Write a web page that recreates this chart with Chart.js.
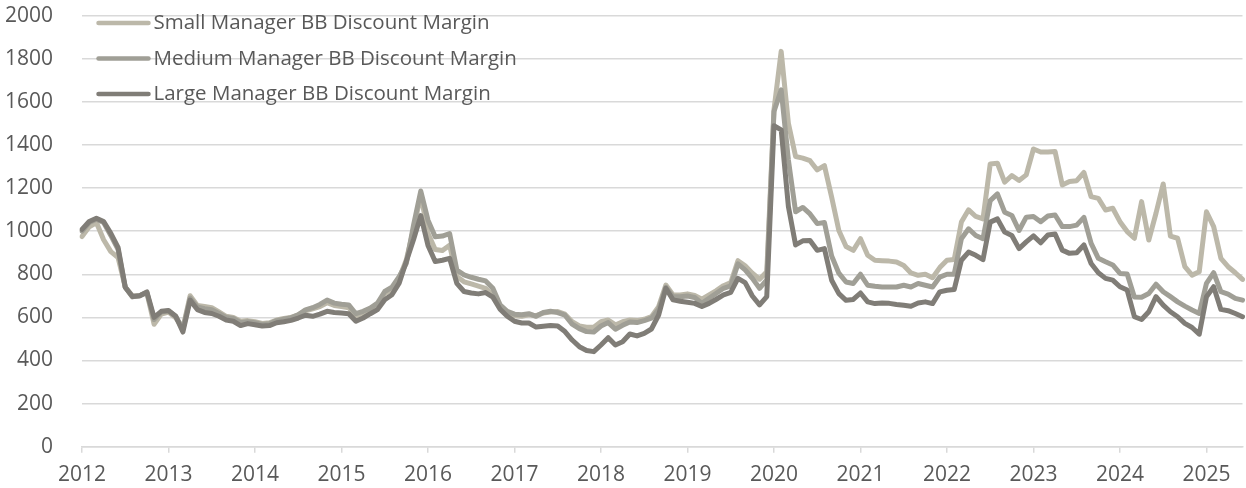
<!DOCTYPE html>
<html>
<head>
<meta charset="utf-8">
<script src="https://cdn.jsdelivr.net/npm/chart.js"></script>
<style>
  html, body { margin: 0; padding: 0; background: #ffffff; }
  #wrap { width: 1246px; height: 488px; }
</style>
</head>
<body>
<div id="wrap"><canvas id="c" width="1246" height="488"></canvas></div>
<script>
// ---- data (monthly, Jan 2012 – Jun 2025) ----
const years = [2012, 2013, 2014, 2015, 2016, 2017, 2018, 2019, 2020, 2021, 2022, 2023, 2024, 2025];
const months = ['01','02','03','04','05','06','07','08','09','10','11','12'];
const lastMonthOf2025 = 6;

const seriesNames = [
  'Small Manager BB Discount Margin',
  'Medium Manager BB Discount Margin',
  'Large Manager BB Discount Margin'
];

const smallBB = [
  975,1020,1040,960,905,878,740,700,700,715,568,615,
  625,598,550,700,655,650,645,625,605,600,582,585,
  580,572,575,588,595,600,612,630,640,650,668,655,
  650,645,605,620,640,660,710,730,780,868,1010,1170,
  990,915,910,935,790,765,755,745,735,705,645,620,
  608,605,612,608,620,625,627,615,580,560,554,554,
  580,588,565,580,588,585,591,603,650,750,704,704,
  709,702,684,704,724,747,761,863,839,805,777,812,
  1563,1834,1501,1346,1339,1327,1284,1304,1158,1003,929,911,
  965,888,865,863,861,857,841,806,795,800,784,831,
  865,868,1042,1099,1068,1057,1312,1315,1227,1258,1235,1261,
  1381,1367,1367,1369,1214,1230,1234,1272,1160,1152,1098,1106,
  1044,998,967,1137,959,1083,1219,977,967,835,796,812,
  1090,1021,874,835,807,776
];

const mediumBB = [
  1000,1040,1055,1040,980,915,740,695,700,715,590,625,
  630,605,545,690,648,640,635,618,600,595,575,580,
  575,567,570,585,592,598,612,635,645,660,680,666,
  661,658,617,628,643,666,720,740,789,851,1029,1186,
  1051,974,977,989,820,797,786,777,769,735,658,628,
  615,612,617,605,623,628,622,610,569,548,534,532,
  560,576,545,563,579,576,585,596,637,740,696,696,
  699,692,665,689,712,735,746,848,820,781,735,774,
  1555,1656,1330,1090,1110,1080,1035,1040,885,805,764,757,
  800,749,744,741,741,741,749,741,757,749,741,787,
  800,800,965,1011,980,965,1142,1173,1088,1073,1003,1065,
  1068,1044,1070,1075,1021,1021,1028,1064,943,874,858,843,
  804,801,695,693,711,754,719,696,672,652,634,618,
  758,807,719,708,688,680
];

const largeBB = [
  1008,1045,1060,1045,990,925,740,697,700,718,600,628,
  632,605,532,680,636,623,618,605,588,582,562,571,
  566,560,562,575,580,586,597,610,605,615,628,623,
  620,617,582,597,617,636,682,705,759,860,961,1072,
  934,859,865,874,758,720,713,709,715,694,638,605,
  582,574,574,555,559,562,560,534,495,464,446,441,
  472,506,472,487,523,514,526,546,611,735,681,675,
  670,665,650,665,684,704,716,781,761,699,658,696,
  1489,1470,1114,936,955,957,911,919,772,710,679,683,
  713,672,664,667,665,660,656,652,667,672,664,718,
  726,729,865,903,888,868,1042,1057,996,980,919,950,
  978,946,982,987,912,897,900,936,850,807,781,773,
  742,727,603,590,626,696,657,626,603,572,553,522,
  696,742,637,631,618,603
];

const yTicks = [0, 200, 400, 600, 800, 1000, 1200, 1400, 1600, 1800, 2000];
const seriesColors = ['#bcb8a9', '#a09f96', '#807d77'];

// category labels "YYYY-MM"
const categories = [];
years.forEach(y => {
  months.forEach((m, k) => {
    if (y === 2025 && k >= lastMonthOf2025) return;
    categories.push(y + '-' + m);
  });
});

const FONT = "'Open Sans', 'Noto Sans', sans-serif";
const TEXT = '#595959';
const GRID = '#d9d9d9';

// legend drawn inside the plot, top-left, with line samples
const lineLegend = {
  id: 'lineLegend',
  afterDatasetsDraw(chart) {
    const { ctx, chartArea } = chart;
    ctx.save();
    chart.data.datasets.forEach((ds, i) => {
      const y = chartArea.top + 7.5 + i * 35.5;
      const x0 = chartArea.left + 16.5;
      ctx.strokeStyle = ds.borderColor;
      ctx.lineWidth = 4.5;
      ctx.lineCap = 'round';
      ctx.beginPath();
      ctx.moveTo(x0, y);
      ctx.lineTo(x0 + 50, y);
      ctx.stroke();
      ctx.fillStyle = TEXT;
      ctx.font = '20.5px ' + FONT;
      ctx.textAlign = 'left';
      ctx.textBaseline = 'middle';
      ctx.fillText(ds.label, x0 + 55, y + 0.5);
    });
    ctx.restore();
  }
};

const values = [smallBB, mediumBB, largeBB];

new Chart(document.getElementById('c'), {
  type: 'line',
  data: {
    labels: categories,
    datasets: values.map((v, i) => ({
      label: seriesNames[i],
      data: v,
      borderColor: seriesColors[i],
      backgroundColor: seriesColors[i],
      borderWidth: 5,
      tension: 0,
      pointRadius: 0,
      pointHoverRadius: 0,
      borderJoinStyle: 'round',
      borderCapStyle: 'round',
      fill: false,
      order: 3 - i
    }))
  },
  options: {
    responsive: false,
    animation: false,
    events: [],
    layout: { autoPadding: false, padding: { top: 0, right: 3.5, bottom: 0, left: 0 } },
    plugins: {
      legend: { display: false },
      tooltip: { enabled: false }
    },
    scales: {
      x: {
        type: 'category',
        offset: false,
        afterBuildTicks(axis) {
          axis.ticks = axis.ticks.filter(t => categories[t.value].endsWith('-01'));
        },
        afterFit(scale) { scale.height = 41.3; },
        grid: {
          display: true,
          drawOnChartArea: false,
          drawTicks: true,
          tickLength: 6,
          color: GRID,
          lineWidth: 1.5
        },
        border: { display: true, color: GRID, width: 1.5 },
        ticks: {
          autoSkip: false,
          maxRotation: 0,
          minRotation: 0,
          padding: 10,
          color: TEXT,
          font: { family: FONT, size: 21 },
          callback(value) { return this.getLabelForValue(value).slice(0, 4); }
        }
      },
      y: {
        min: 0,
        max: 2000,
        afterBuildTicks(axis) { axis.ticks = yTicks.map(v => ({ value: v })); },
        afterFit(scale) { scale.width = 82; },
        grid: {
          color: GRID,
          lineWidth: 1.5,
          drawTicks: true,
          tickLength: 26,
          tickColor: 'rgba(0,0,0,0)'
        },
        border: { display: false },
        ticks: {
          padding: 3,
          color: TEXT,
          font: { family: FONT, size: 21 },
          callback(value) { return String(value); }
        }
      }
    }
  },
  plugins: [lineLegend]
});
</script>
</body>
</html>
